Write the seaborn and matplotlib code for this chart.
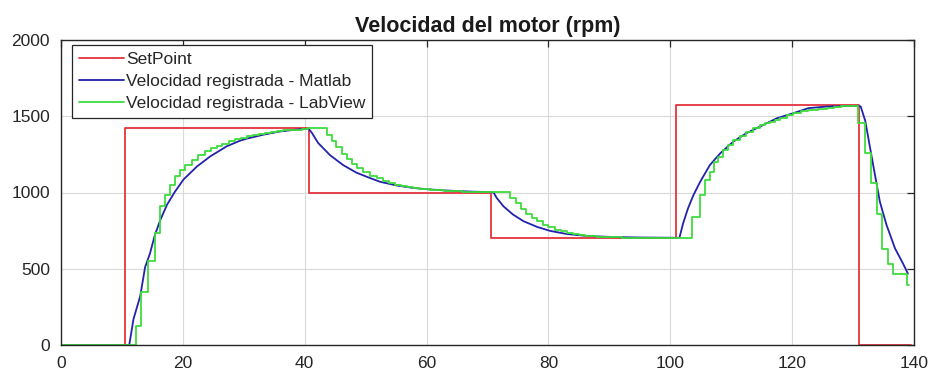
import numpy as np
import pandas as pd
import matplotlib
matplotlib.use("Agg")
import matplotlib.pyplot as plt
import seaborn as sns

# ---- data ----
sp_t = [0, 10.5, 40.7, 70.6, 100.9, 130.9, 139.5]
sp_v = [0, 1420, 1000, 700, 1575, 0, 0]

matlab_t = [0, 11.2, 11.9, 13.0, 13.8, 14.6, 15.4, 16.3, 17.4, 18.7, 20.1, 22.3, 24.5,
            27.2, 29.4, 30.5, 33.2, 35.9, 38.7, 40.6, 40.9, 41.2, 41.7, 42.2, 44.15, 46.3,
            48.5, 50.7, 52.4, 55.1, 57.8, 60.5, 63.3, 66.0, 68.0, 70.4, 71.0, 71.5, 72.6,
            74.2, 75.9, 78.1, 80.3, 83.0, 86.3, 90.6, 95.0, 101.5, 102.1, 102.9, 103.8,
            104.9, 106.5, 108.2, 110.35, 112.5, 114.7, 117.5, 120.2, 122.65, 125.7, 130.6,
            131.25, 132.0, 132.8, 133.6, 134.4, 135.5, 136.9, 138.2, 139.0]
matlab_v = [0, 0, 170, 320, 510, 600, 720, 820, 920, 1005, 1085, 1170, 1237,
            1303, 1340, 1353, 1379, 1400, 1413, 1418, 1405, 1390, 1357, 1325, 1245, 1180,
            1130, 1095, 1070, 1046, 1030, 1020, 1013, 1008, 1005, 1003, 1000, 965, 910,
            855, 812, 775, 748, 728, 715, 708, 705, 703, 797, 895, 983,
            1070, 1180, 1257, 1334, 1389, 1432, 1487, 1520, 1553, 1564, 1568,
            1564, 1470, 1291, 1114, 939, 786, 632, 534, 468]

labview_t = [0, 12.3, 13.2, 14.3, 15.4, 16.2, 17.1, 17.9, 18.7, 19.5, 20.4, 21.5, 22.5,
             23.6, 24.7, 25.6, 26.5, 27.5, 28.5, 29.5, 30.5, 31.5, 32.5, 33.5, 34.5, 35.5,
             36.5, 37.5, 38.5, 39.5, 40.5, 43.6, 44.4, 45.2, 46.1, 46.9, 47.7, 48.5, 49.6,
             50.7, 51.8, 52.8, 53.8, 54.8, 55.8, 56.8, 57.8, 58.8, 59.8, 60.8, 61.8, 62.8,
             63.8, 64.8, 65.8, 66.8, 67.8, 68.8, 69.8, 73.7, 74.6, 75.5, 76.4, 77.3, 78.2,
             79.1, 80.0, 81.0, 82.0, 83.0, 84.0, 85.0, 86.0, 87.0, 88.0, 89.0, 90.0, 92.0,
             95.0, 103.6, 104.8, 105.7, 106.5, 107.1, 107.9, 108.7, 109.5, 110.3, 111.4,
             112.5, 113.6, 114.7, 115.5, 116.4, 117.2, 118.0, 119.1, 120.2, 121.4, 122.65,
             124.2, 125.7, 126.9, 128.1, 130.85, 131.95, 132.9, 133.9, 134.7, 135.8, 136.6,
             138.8, 139.2]
labview_v = [0, 126, 346, 551, 737, 910, 985, 1052, 1107, 1150, 1183, 1216, 1248,
             1270, 1292, 1305, 1316, 1336, 1350, 1360, 1370, 1378, 1385, 1392, 1398, 1403,
             1407, 1410, 1413, 1416, 1420, 1376, 1340, 1296, 1253, 1220, 1187, 1159, 1133,
             1111, 1093, 1078, 1065, 1052, 1042, 1035, 1029, 1024, 1020, 1017, 1014, 1012,
             1010, 1008, 1006, 1005, 1004, 1003, 1002, 965, 930, 895, 862, 835, 810,
             790, 772, 757, 745, 735, 727, 721, 716, 712, 709, 707, 705, 704,
             703, 840, 983, 1082, 1136, 1202, 1235, 1279, 1312, 1345, 1373,
             1400, 1422, 1443, 1455, 1465, 1478, 1491, 1506, 1520, 1532, 1542,
             1548, 1553, 1558, 1564, 1455, 1257, 1060, 862, 632, 534, 468,
             391, 391]

labels = ["SetPoint", "Velocidad registrada - Matlab", "Velocidad registrada - LabView"]
colors = ["#e4343c", "#2222ac", "#3ddc3d"]

df_sp = pd.DataFrame({"t": sp_t, "v": sp_v})
df_ml = pd.DataFrame({"t": matlab_t, "v": matlab_v})
df_lv = pd.DataFrame({"t": labview_t, "v": labview_v})

sns.set_style("white")
plt.rcParams["font.family"] = ["Liberation Sans", "DejaVu Sans"]

fig = plt.figure(figsize=(9.32, 3.77), dpi=100)
ax = fig.add_axes([61 / 932, 1 - 345 / 377, 853 / 932, 305 / 377])

sns.lineplot(data=df_sp, x="t", y="v", ax=ax, color=colors[0], lw=1.3,
             drawstyle="steps-post", sort=False, estimator=None, label=labels[0])
sns.lineplot(data=df_ml, x="t", y="v", ax=ax, color=colors[1], lw=1.3,
             sort=False, estimator=None, label=labels[1])
sns.lineplot(data=df_lv, x="t", y="v", ax=ax, color=colors[2], lw=1.3,
             drawstyle="steps-post", sort=False, estimator=None, label=labels[2])

ax.set_xlim(0, 140)
ax.set_ylim(0, 2000)
ax.set_xticks(np.arange(0, 141, 20))
ax.set_yticks(np.arange(0, 2001, 500))
ax.set_xlabel("")
ax.set_ylabel("")
ax.grid(True, color="#d9d9d9", lw=0.8)
ax.set_axisbelow(True)
for s in ax.spines.values():
    s.set_color("#262626")
    s.set_linewidth(1.0)
    s.set_visible(True)
ax.tick_params(direction="in", length=5, width=0.9, top=True, right=True,
               labelsize=12.5, colors="#262626", labelcolor="#262626", pad=8)
ax.tick_params(axis="y", pad=8)
ax.set_title("Velocidad del motor (rpm)", fontsize=15.5, fontweight="bold",
             color="#1a1a1a", pad=6)

leg = ax.legend(loc="upper left", bbox_to_anchor=(0.013, 0.985), borderaxespad=0,
                fontsize=12.5, frameon=True, fancybox=False, handlelength=2.6,
                handletextpad=0.1, labelspacing=0.4, borderpad=0.4)
leg.get_frame().set_edgecolor("#262626")
leg.get_frame().set_linewidth(0.9)
leg.get_frame().set_alpha(1)

fig.savefig("out.png", dpi=100)
